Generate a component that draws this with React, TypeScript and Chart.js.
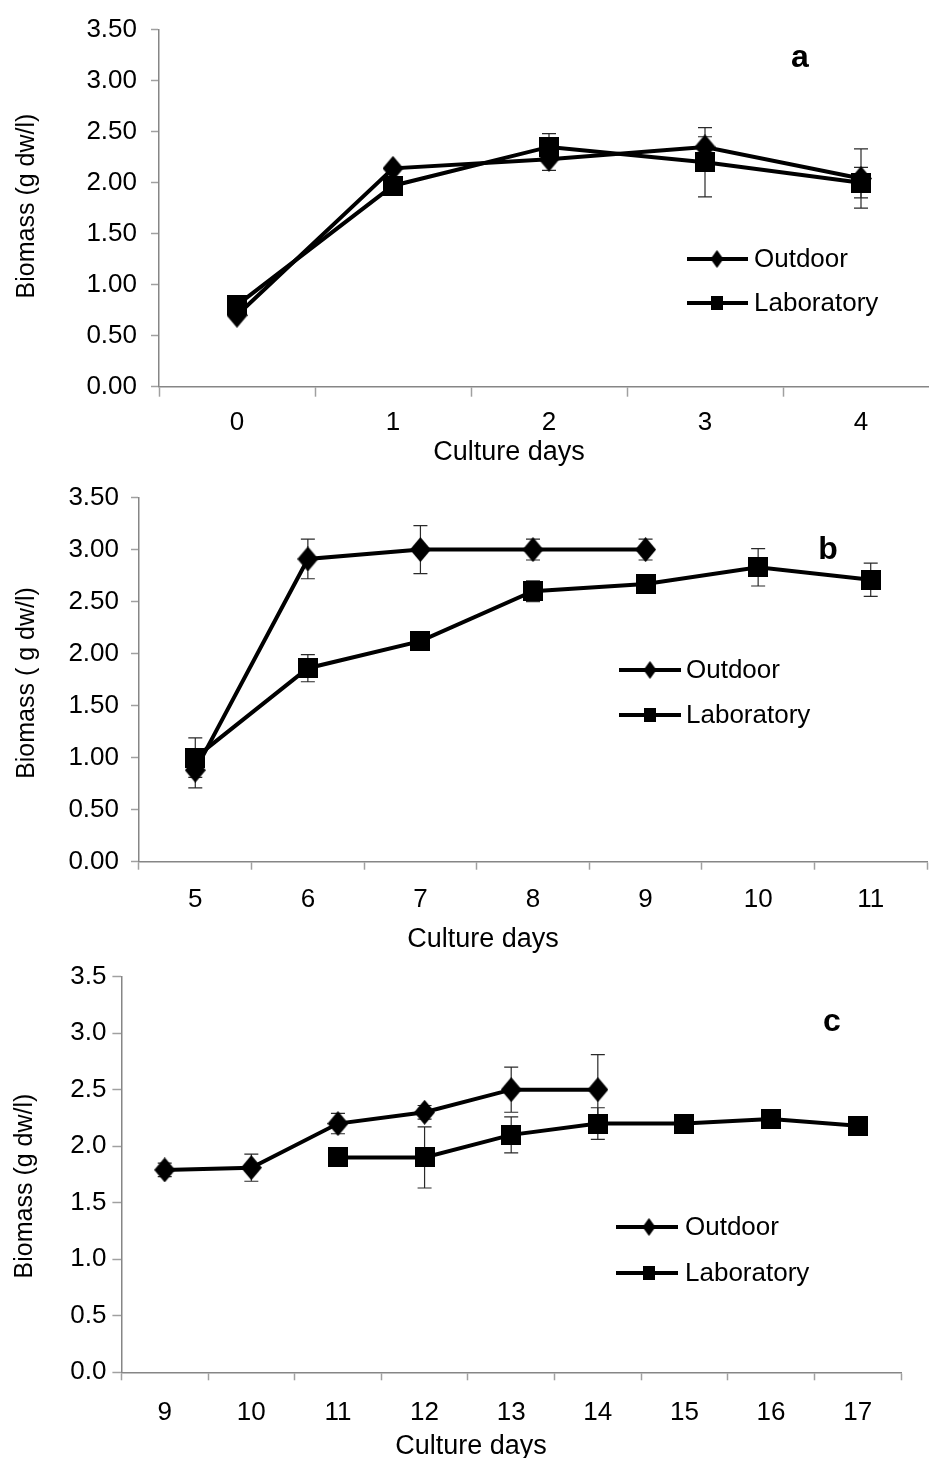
import React, { useEffect, useRef } from 'react';
import { Chart, registerables } from 'chart.js';

Chart.register(...registerables);

// ---------------- data ----------------
const seriesNames = ['Outdoor', 'Laboratory'];

// Panel a
const daysA = ['0', '1', '2', '3', '4'];
const outdoorA = [0.70, 2.14, 2.23, 2.35, 2.04];
const outdoorErrA = [0, 0, 0.11, 0.10, 0.29];
const labA = [0.80, 1.97, 2.35, 2.20, 2.00];
const labErrA = [0, 0, 0.13, 0.34, 0.15];

// Panel b
const daysB = ['5', '6', '7', '8', '9', '10', '11'];
const outdoorB = [0.88, 2.91, 3.0, 3.0, 3.0, null, null];
const outdoorErrB = [0.17, 0.19, 0.23, 0.10, 0.10, 0, 0];
const labB = [1.0, 1.86, 2.12, 2.60, 2.67, 2.83, 2.71];
const labErrB = [0.19, 0.13, 0.04, 0.10, 0.08, 0.18, 0.16];

// Panel c
const daysC = ['9', '10', '11', '12', '13', '14', '15', '16', '17'];
const outdoorC = [1.79, 1.81, 2.20, 2.30, 2.50, 2.50, null, null, null];
const outdoorErrC = [0.06, 0.12, 0.09, 0.06, 0.20, 0.31, 0, 0, 0];
const labC = [null, null, 1.90, 1.90, 2.10, 2.20, 2.20, 2.24, 2.18];
const labErrC = [0, 0, 0, 0.27, 0.16, 0.14, 0.08, 0, 0];

const yMax = 3.5;
const yStep = 0.5;
const xTitle = 'Culture days';
const yTitles = ['Biomass (g dw/l)', 'Biomass ( g dw/l)', 'Biomass (g dw/l)'];
const panelLetters = ['a', 'b', 'c'];

// ---------------- styles ----------------
const FONT = "'Liberation Sans', Arial, Helvetica, sans-serif";
const AXIS_GREY = '#868686';
const TICK_GREY = '#a0a0a0';

function makeMarker(shape: string, w: number, h: number) {
  const c = document.createElement('canvas');
  c.width = w;
  c.height = h;
  const ctx = c.getContext('2d')!;
  ctx.fillStyle = '#000';
  ctx.beginPath();
  if (shape === 'diamond') {
    ctx.moveTo(w / 2, 0);
    ctx.lineTo(w, h / 2);
    ctx.lineTo(w / 2, h);
    ctx.lineTo(0, h / 2);
    ctx.closePath();
  } else {
    ctx.rect(0, 0, w, h);
  }
  ctx.fill();
  return c;
}

const overlayPlugin = {
  id: 'overlay',
  beforeDatasetsDraw(chart: any) {
    const ctx = chart.ctx;
    const y = chart.scales.y;
    ctx.save();
    ctx.strokeStyle = '#2a2a2a';
    ctx.lineWidth = 1.2;
    chart.data.datasets.forEach((ds: any, i: number) => {
      const meta = chart.getDatasetMeta(i);
      (ds.errors || []).forEach((e: number, j: number) => {
        const v = ds.data[j];
        if (v == null || !e) return;
        const pt = meta.data[j];
        const x = pt.x;
        const yt = y.getPixelForValue(v + e);
        const yb = y.getPixelForValue(v - e);
        ctx.beginPath();
        ctx.moveTo(x, yt);
        ctx.lineTo(x, yb);
        ctx.moveTo(x - 7, yt);
        ctx.lineTo(x + 7, yt);
        ctx.moveTo(x - 7, yb);
        ctx.lineTo(x + 7, yb);
        ctx.stroke();
      });
    });
    ctx.restore();
  },
  afterDraw(chart: any) {
    const o = chart.options.plugins.overlay;
    const ctx = chart.ctx;
    ctx.save();
    // legend
    chart.data.datasets.forEach((ds: any, i: number) => {
      const ly = o.legend.rows[i];
      ctx.strokeStyle = '#000';
      ctx.lineWidth = 4;
      ctx.beginPath();
      ctx.moveTo(o.legend.x0, ly);
      ctx.lineTo(o.legend.x1, ly);
      ctx.stroke();
      const m = ds.legendMarker;
      ctx.drawImage(m, o.legend.mx - m.width / 2, ly - m.height / 2);
      ctx.fillStyle = '#000';
      ctx.font = `26px ${FONT}`;
      ctx.textAlign = 'left';
      ctx.textBaseline = 'middle';
      ctx.fillText(ds.label, o.legend.tx, ly + 1);
    });
    // panel letter
    ctx.font = `bold 32px ${FONT}`;
    ctx.textAlign = 'center';
    ctx.textBaseline = 'middle';
    ctx.fillText(o.letter, o.letterPos[0], o.letterPos[1]);
    // x title
    ctx.font = `27px ${FONT}`;
    ctx.fillText(o.xTitle, o.xTitlePos[0], o.xTitlePos[1]);
    // y title
    ctx.translate(o.yTitlePos[0], o.yTitlePos[1]);
    ctx.rotate(-Math.PI / 2);
    ctx.font = `25px ${FONT}`;
    ctx.fillText(o.yTitle, 0, 0);
    ctx.restore();
  },
};

type PanelCfg = {
  top: number;
  width: number;
  height: number;
  days: string[];
  outdoor: (number | null)[];
  outdoorErr: number[];
  lab: (number | null)[];
  labErr: number[];
  decimals: number;
  yTitle: string;
  letter: string;
  chartLeft: number;
  chartTop: number;
  xAxisH: number;
  padRight: number;
  yTickLen: number;
  yTickPad: number;
  xTickLen: number;
  xTickPad: number;
  legend: { x0: number; x1: number; mx: number; tx: number; rows: number[] };
  letterPos: number[];
  xTitlePos: number[];
  yTitlePos: number[];
};

function Panel({ cfg }: { cfg: PanelCfg }) {
  const ref = useRef<HTMLCanvasElement>(null);
  useEffect(() => {
    const canvas = ref.current!;
    const diamond = makeMarker('diamond', 21, 25);
    const square = makeMarker('square', 20, 20);
    const diamondL = makeMarker('diamond', 13, 18);
    const squareL = makeMarker('square', 12, 14);
    const tickFont = { family: FONT, size: 26 };
    const chart = new Chart(canvas, {
      type: 'line',
      data: {
        labels: cfg.days,
        datasets: [
          {
            label: seriesNames[0],
            data: cfg.outdoor,
            errors: cfg.outdoorErr,
            legendMarker: diamondL,
            borderColor: '#000',
            borderWidth: 4,
            pointStyle: diamond,
            pointRadius: 10,
            spanGaps: false,
            tension: 0,
          } as any,
          {
            label: seriesNames[1],
            data: cfg.lab,
            errors: cfg.labErr,
            legendMarker: squareL,
            borderColor: '#000',
            borderWidth: 4,
            pointStyle: square,
            pointRadius: 10,
            spanGaps: false,
            tension: 0,
          } as any,
        ],
      },
      options: {
        animation: false,
        responsive: false,
        devicePixelRatio: 1,
        layout: {
          autoPadding: false,
          padding: { left: 0, top: cfg.chartTop, right: cfg.padRight, bottom: 0 },
        },
        plugins: {
          legend: { display: false },
          tooltip: { enabled: false },
          overlay: {
            legend: cfg.legend,
            letter: cfg.letter,
            letterPos: cfg.letterPos,
            xTitle,
            xTitlePos: cfg.xTitlePos,
            yTitle: cfg.yTitle,
            yTitlePos: cfg.yTitlePos,
          },
        } as any,
        scales: {
          x: {
            type: 'category',
            offset: true,
            grid: {
              offset: true,
              drawOnChartArea: false,
              drawTicks: true,
              tickLength: cfg.xTickLen,
              tickColor: TICK_GREY,
              tickWidth: 1.5,
            },
            border: { color: AXIS_GREY, width: 1.5 },
            ticks: {
              font: tickFont,
              color: '#000',
              padding: cfg.xTickPad,
              maxRotation: 0,
              autoSkip: false,
            },
            afterFit: (s: any) => {
              s.height = cfg.xAxisH;
            },
          },
          y: {
            min: 0,
            max: yMax,
            ticks: {
              stepSize: yStep,
              font: tickFont,
              color: '#000',
              padding: cfg.yTickPad,
              callback: (v: any) => Number(v).toFixed(cfg.decimals),
            },
            grid: {
              drawOnChartArea: false,
              drawTicks: true,
              tickLength: cfg.yTickLen,
              tickColor: TICK_GREY,
              tickWidth: 1.5,
            },
            border: { color: AXIS_GREY, width: 1.5 },
            afterFit: (s: any) => {
              s.width = cfg.chartLeft;
            },
          },
        },
      } as any,
      plugins: [overlayPlugin],
    });
    return () => chart.destroy();
  }, [cfg]);
  return (
    <div
      style={{
        position: 'absolute',
        left: 0,
        top: cfg.top,
        width: 929,
        height: cfg.height,
        overflow: 'hidden',
      }}
    >
      <canvas ref={ref} width={cfg.width} height={cfg.height} style={{ display: 'block' }} />
    </div>
  );
}

const panels: PanelCfg[] = [
  {
    top: 0,
    width: 939,
    height: 470,
    days: daysA,
    outdoor: outdoorA,
    outdoorErr: outdoorErrA,
    lab: labA,
    labErr: labErrA,
    decimals: 2,
    yTitle: yTitles[0],
    letter: panelLetters[0],
    chartLeft: 159,
    chartTop: 22.7,
    xAxisH: 83.3,
    padRight: 0,
    yTickLen: 8,
    yTickPad: 14,
    xTickLen: 10,
    xTickPad: 11,
    legend: { x0: 687, x1: 748, mx: 717, tx: 754, rows: [259, 303] },
    letterPos: [800, 58],
    xTitlePos: [509, 453],
    yTitlePos: [27, 206],
  },
  {
    top: 470,
    width: 929,
    height: 485,
    days: daysB,
    outdoor: outdoorB,
    outdoorErr: outdoorErrB,
    lab: labB,
    labErr: labErrB,
    decimals: 2,
    yTitle: yTitles[1],
    letter: panelLetters[1],
    chartLeft: 139,
    chartTop: 20.7,
    xAxisH: 93.3,
    padRight: 2,
    yTickLen: 8,
    yTickPad: 12,
    xTickLen: 8,
    xTickPad: 15,
    legend: { x0: 619, x1: 681, mx: 650, tx: 686, rows: [200, 245] },
    letterPos: [828, 80],
    xTitlePos: [483, 470],
    yTitlePos: [27, 213],
  },
  {
    top: 955,
    width: 929,
    height: 503,
    days: daysC,
    outdoor: outdoorC,
    outdoorErr: outdoorErrC,
    lab: labC,
    labErr: labErrC,
    decimals: 1,
    yTitle: yTitles[2],
    letter: panelLetters[2],
    chartLeft: 121.4,
    chartTop: 16.7,
    xAxisH: 85.7,
    padRight: 28,
    yTickLen: 9,
    yTickPad: 6,
    xTickLen: 8,
    xTickPad: 17,
    legend: { x0: 616, x1: 678, mx: 649, tx: 685, rows: [272, 318] },
    letterPos: [832, 67],
    xTitlePos: [471, 492],
    yTitlePos: [25, 231],
  },
];

export default function App() {
  return (
    <div style={{ position: 'absolute', left: 0, top: 0, width: 929, height: 1458, background: '#fff' }}>
      {panels.map((p, i) => (
        <Panel key={i} cfg={p} />
      ))}
    </div>
  );
}
